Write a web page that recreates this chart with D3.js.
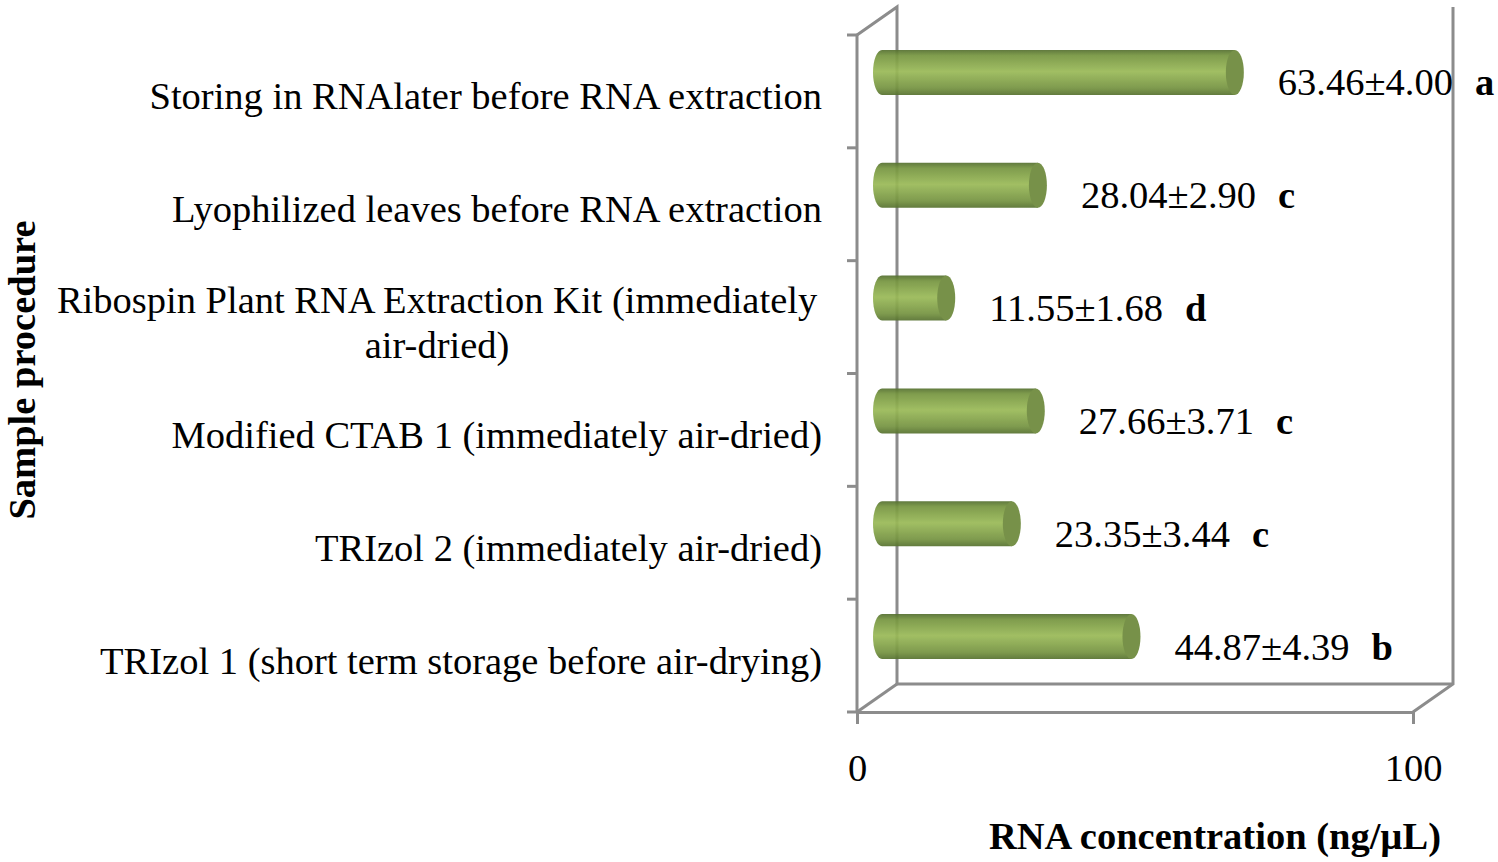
<!DOCTYPE html>
<html lang="en">
<head>
<meta charset="utf-8">
<title>RNA concentration by sample procedure</title>
<script src="https://d3js.org/d3.v7.min.js"></script>
<style>
    body { margin: 0; background: #fff; }
    text { font-family: "Liberation Serif", "Times New Roman", serif; fill: #000; }
</style>
</head>
<body>
<div id="chart"></div>
<script>
    // data, top to bottom as drawn
    const categories = [
        "Storing in RNAlater before RNA extraction",
        "Lyophilized leaves before RNA extraction",
        "Ribospin Plant RNA Extraction Kit (immediately\nair-dried)",
        "Modified CTAB 1 (immediately air-dried)",
        "TRIzol 2 (immediately air-dried)",
        "TRIzol 1 (short term storage before air-drying)"
    ];
    const means = [63.46, 28.04, 11.55, 27.66, 23.35, 44.87];
    const errors = ["4.00", "2.90", "1.68", "3.71", "3.44", "4.39"];
    const letters = ["a", "c", "d", "c", "c", "b"];
    const xTicks = [0, 100];

    const width = 1498, height = 862;
    const gray = "#8c8c8c";
    const fontSize = 38.5;

    // 3d depth of the plot box and of the bars inside it
    const depthX = 40, depthY = -28;
    const barDX = 25, barDY = -19, barH = 45, capRx = 9;

    const svg = d3.select("#chart").append("svg")
        .attr("width", width)
        .attr("height", height);

    const x = d3.scaleLinear().domain([0, 100]).range([857, 1413]);
    const y = d3.scaleBand().domain(categories).range([35, 712]).paddingInner(0);
    const yTop = y.range()[0], yBot = y.range()[1];

    // gradient for the cylinder body
    const defs = svg.append("defs");
    const grad = defs.append("linearGradient")
        .attr("id", "cyl")
        .attr("x1", 0).attr("y1", 0).attr("x2", 0).attr("y2", 1);
    grad.append("stop").attr("offset", "0%").attr("stop-color", "#557030");
    grad.append("stop").attr("offset", "12%").attr("stop-color", "#769540");
    grad.append("stop").attr("offset", "48%").attr("stop-color", "#9aba58");
    grad.append("stop").attr("offset", "85%").attr("stop-color", "#759341");
    grad.append("stop").attr("offset", "100%").attr("stop-color", "#577230");

    // back walls of the 3d box
    const wall = svg.append("g")
        .attr("fill", "none")
        .attr("stroke", gray)
        .attr("stroke-width", 3);

    wall.append("path")
        .attr("d", d3.line()([
            [x(0), yTop],
            [x(0) + depthX, yTop + depthY],
            [x(0) + depthX, yBot + depthY],
            [x(100) + depthX, yBot + depthY]
        ]));
    wall.append("path")
        .attr("d", d3.line()([
            [x(0), yBot],
            [x(0) + depthX, yBot + depthY]
        ]));
    wall.append("path")
        .attr("d", d3.line()([
            [x(100), yBot],
            [x(100) + depthX, yBot + depthY],
            [x(100) + depthX, yTop + depthY]
        ]));

    // front axes
    const xAxis = d3.axisBottom(x)
        .tickValues(xTicks)
        .tickSize(12)
        .tickSizeOuter(0)
        .tickPadding(30)
        .tickFormat(d3.format("d"));

    const gx = svg.append("g")
        .attr("transform", `translate(0,${yBot})`)
        .call(xAxis);
    gx.select(".domain").attr("stroke", gray).attr("stroke-width", 3);
    gx.selectAll(".tick line").attr("stroke", gray).attr("stroke-width", 3);
    gx.selectAll(".tick text")
        .attr("font-family", "Liberation Serif")
        .attr("font-size", fontSize)
        .attr("fill", "#000");

    // left axis: line with ticks at band boundaries
    const boundaries = categories.map(c => y(c)).concat([yBot]);
    const gy = svg.append("g")
        .attr("stroke", gray)
        .attr("stroke-width", 3);
    gy.append("line")
        .attr("x1", x(0)).attr("x2", x(0))
        .attr("y1", yTop).attr("y2", yBot);
    gy.selectAll("line.tk")
        .data(boundaries)
        .join("line")
        .attr("class", "tk")
        .attr("x1", x(0) - 10).attr("x2", x(0))
        .attr("y1", d => d).attr("y2", d => d);

    // cylinders
    const bars = svg.append("g").attr("opacity", 0.93);
    const barCy = c => y(c) + y.bandwidth() / 2 + barDY;

    bars.selectAll("path.body")
        .data(categories)
        .join("path")
        .attr("class", "body")
        .attr("fill", "url(#cyl)")
        .attr("d", (c, i) => {
            const x0 = x(0) + barDX, x1 = x(means[i]) + barDX;
            const t = barCy(c) - barH / 2, b = barCy(c) + barH / 2;
            return `M${x1},${t} L${x0},${t} A${capRx},${barH / 2} 0 0 0 ${x0},${b} L${x1},${b} Z`;
        });

    bars.selectAll("ellipse.cap")
        .data(categories)
        .join("ellipse")
        .attr("class", "cap")
        .attr("cx", (c, i) => x(means[i]) + barDX)
        .attr("cy", c => barCy(c))
        .attr("rx", capRx)
        .attr("ry", barH / 2)
        .attr("fill", "#6d893c");

    // value labels with significance letters
    const labels = svg.append("g")
        .selectAll("text")
        .data(categories)
        .join("text")
        .attr("x", (c, i) => x(means[i]) + barDX + 43)
        .attr("y", c => y(c) + y.bandwidth() / 2 - 9)
        .attr("dominant-baseline", "central")
        .attr("font-size", fontSize);
    labels.append("tspan")
        .text((c, i) => `${means[i].toFixed(2)}±${errors[i]}`);
    labels.append("tspan")
        .attr("dx", 22)
        .attr("font-weight", "bold")
        .text((c, i) => letters[i]);

    // category labels, right aligned; wrapped ones centred as a block
    const labelRight = 822;
    svg.append("g")
        .selectAll("text")
        .data(categories)
        .join("text")
        .attr("font-size", fontSize)
        .attr("dominant-baseline", "central")
        .each(function (c) {
            const t = d3.select(this);
            const lines = c.split("\n");
            const cy = y(c) + y.bandwidth() / 2 + 5;
            if (lines.length === 1) {
                t.attr("x", labelRight).attr("y", cy)
                    .attr("text-anchor", "end").text(c);
            } else {
                const lh = 45;
                t.attr("text-anchor", "middle");
                const spans = lines.map((l, k) => t.append("tspan")
                    .attr("y", cy + (k - (lines.length - 1) / 2) * lh)
                    .text(l));
                const w = d3.max(spans, s => s.node().getComputedTextLength()) + fontSize * 0.25;
                spans.forEach(s => s.attr("x", labelRight - w / 2));
            }
        });

    // axis titles
    svg.append("text")
        .attr("x", 1215)
        .attr("y", 836)
        .attr("text-anchor", "middle")
        .attr("dominant-baseline", "central")
        .attr("font-size", fontSize)
        .attr("font-weight", "bold")
        .text("RNA concentration (ng/µL)");

    svg.append("text")
        .attr("transform", "translate(22,370) rotate(-90)")
        .attr("text-anchor", "middle")
        .attr("dominant-baseline", "central")
        .attr("font-size", fontSize)
        .attr("font-weight", "bold")
        .text("Sample procedure");
</script>
</body>
</html>
